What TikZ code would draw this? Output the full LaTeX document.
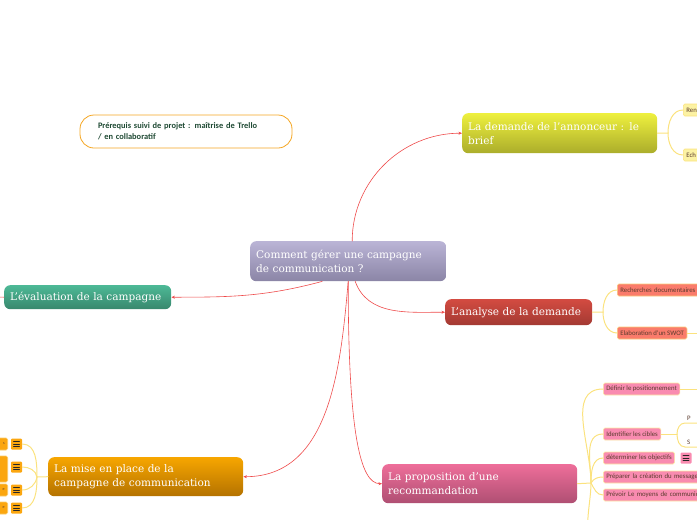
\documentclass[tikz,border=0pt]{standalone}
\usepackage{fontspec}
\setmainfont{DejaVu Serif}
\newfontfamily\leaffont{Carlito}
\usetikzlibrary{arrows.meta,positioning}
\definecolor{linkred}{HTML}{EE4B4B}
\definecolor{branchyel}{HTML}{FBE27E}
\definecolor{leaftext}{HTML}{5B3B2E}
\definecolor{preink}{HTML}{1F4A34}
\definecolor{preline}{HTML}{F5A623}
\definecolor{rootA}{HTML}{BAB4D6}
\definecolor{rootB}{HTML}{8B85A6}
\definecolor{briefA}{HTML}{EEF03E}
\definecolor{briefB}{HTML}{ABAD2B}
\definecolor{anaA}{HTML}{D34B41}
\definecolor{anaB}{HTML}{A33A33}
\definecolor{propA}{HTML}{EE6E9A}
\definecolor{propB}{HTML}{AF4F73}
\definecolor{miseA}{HTML}{F7A600}
\definecolor{miseB}{HTML}{B47200}
\definecolor{evalA}{HTML}{4DB996}
\definecolor{evalB}{HTML}{38876D}
\definecolor{briefleaf}{HTML}{FCF2A3}
\definecolor{analeaf}{HTML}{FA7B6B}
\definecolor{propleaf}{HTML}{F98BB0}
\definecolor{miseleaf}{HTML}{FBA60F}
\tikzset{
  every picture/.style={line cap=round, line join=round,
    >={Stealth[length=3.5pt,width=3pt]}},
  % Hauptthemen
  topic/.style={anchor=north west, rounded corners=6pt, inner xsep=6pt, inner ysep=0pt,
    text=white, align=left, font=\fontsize{10.5}{14}\selectfont},
  link/.style={linkred, line width=0.6pt, ->},
  branch/.style={branchyel, line width=1pt},
  % Unterpunkte
  leaf/.style={anchor=west, rounded corners=1.5pt, line width=0.6pt, inner xsep=3pt,
    inner ysep=0pt, minimum height=12pt, text=leaftext,
    font=\leaffont\fontsize{6.8}{8}\selectfont},
  cut/.style={text width=#1, align=left},
  under/.style={anchor=south west, inner xsep=2pt, inner ysep=2pt, text=leaftext,
    text width=20pt, align=left, font=\leaffont\fontsize{6.8}{8}\selectfont},
  icon/.style={minimum width=11pt, minimum height=11pt, inner sep=0pt, rounded corners=1pt,
    path picture={\foreach \dy in {-2.5,0,2.5}
      \draw[black!85, line width=0.7pt] ([xshift=-3pt,yshift=\dy pt]path picture bounding box.center) -- ++(6pt,0);}},
}
\begin{document}
\begin{tikzpicture}[x=1pt, y=1pt]
  \useasboundingbox (0,0) rectangle (697,-520);
  \clip (0,0) rectangle (697,-520);
  % Zentrum und Hauptäste
  \node[topic, top color=rootA, bottom color=rootB, minimum width=196pt, minimum height=40pt,
    text width=184pt] (root) at (250,-241) {Comment gérer une campagne\\de communication ?};
  \node[topic, top color=briefA, bottom color=briefB, minimum width=195pt, minimum height=40pt,
    text width=183pt] (brief) at (462,-113) {La demande de l'annonceur : le\\brief};
  \node[topic, top color=anaA, bottom color=anaB, minimum width=147pt, minimum height=26pt,
    text width=135pt] (ana) at (445,-299) {L'analyse de la demande};
  \node[topic, top color=propA, bottom color=propB, minimum width=195pt, minimum height=39pt,
    text width=183pt] (prop) at (382,-464) {La proposition d'une\\recommandation};
  \node[topic, top color=miseA, bottom color=miseB, minimum width=195pt, minimum height=39pt,
    text width=183pt] (mise) at (48,-457) {La mise en place de la\\campagne de communication};
  \node[topic, top color=evalA, bottom color=evalB, minimum width=167pt, minimum height=24pt,
    text width=155pt] (eval) at (4,-285) {L'évaluation de la campagne};
  \node[draw=preline, line width=0.8pt, fill=white, rounded corners=14pt, minimum width=212pt,
    minimum height=33pt, inner xsep=18pt, text width=176pt, align=left, text=preink,
    font=\leaffont\bfseries\fontsize{8.4}{11}\selectfont] (pre) at (186,-131.5)
    {Prérequis suivi de projet : maîtrise de Trello\\/ en collaboratif};
  \draw[link] ([xshift=4pt]root.north) to[out=90, in=180] (brief.west);
  \draw[link] ([xshift=7pt]root.south) to[out=-70, in=180] (ana.west);
  \draw[link] (root.south) .. controls +(0,-150) and +(-22,0) .. (prop.west);
  \draw[link] (root.south) to[out=-95, in=0] (mise.east);
  \draw[link] ([xshift=-26pt]root.south) to[out=195, in=0] (eval.east);
  \coordinate (evalout) at (-8,-297);
  \draw[linkred, line width=0.6pt] (eval.west) -- (evalout);
  % Brief
  \node[leaf, draw=branchyel, fill=briefleaf, cut=30pt] (ren) at (683,-110) {Ren};
  \node[leaf, draw=branchyel, fill=briefleaf, cut=30pt] (ech) at (683,-155) {Ech};
  \coordinate (bj) at (668,-133);
  \draw[branch] (brief.east) -- (bj);
  \draw[branch] (bj) to[out=90, in=180] (ren.west);
  \draw[branch] (bj) to[out=-90, in=180] (ech.west);
  % Analyse
  \node[leaf, draw=preline!60, fill=analeaf, cut=110pt] (doc) at (617,-290) {Recherches documentaires o};
  \node[leaf, draw=preline!60, fill=analeaf] (swot) at (617,-333) {Elaboration d'un SWOT};
  \coordinate (aj) at (603,-312);
  \coordinate (swotout) at (705,-333);
  \draw[branch] (ana.east) -- (aj);
  \draw[branch] (aj) to[out=90, in=180] (doc.west);
  \draw[branch] (aj) to[out=-90, in=180] (swot.west);
  \draw[branch] (swot.east) -- (swotout);
  % Proposition
  \node[leaf, draw=branchyel!70, fill=propleaf] (def) at (603,-389) {Définir le positionnement};
  \node[leaf, draw=branchyel!70, fill=propleaf] (cib) at (603,-434) {Identifier les cibles};
  \node[leaf, draw=branchyel!70, fill=propleaf] (obj) at (603,-458) {déterminer les objectifs};
  \node[icon, fill=propleaf] (objicon) at (686,-458) {};
  \node[leaf, draw=branchyel!70, fill=propleaf, cut=110pt] (mes) at (603,-477) {Préparer la création du message};
  \node[leaf, draw=branchyel!70, fill=propleaf, cut=110pt] (moy) at (603,-495) {Prévoir Le moyens de communic};
  \node[under] (p) at (685,-423) {P};
  \node[under] (s) at (685,-447) {S};
  \coordinate (pj) at (591,-483);
  \coordinate (cj) at (677,-434);
  \coordinate (defout) at (705,-389);
  \coordinate (propout) at (603,-545);
  \draw[branch] (prop.east) -- (pj);
  \draw[branch] (pj) to[out=90, in=180] (def.west);
  \draw[branch] (pj) to[out=90, in=180] (cib.west);
  \draw[branch] (pj) to[out=90, in=180] (obj.west);
  \draw[branch] (pj) to[out=60, in=180] (mes.west);
  \draw[branch] (pj) to[out=-60, in=180] (moy.west);
  \draw[branch] (pj) to[out=-90, in=180] (propout);
  \draw[branch] (def.east) -- (defout);
  \draw[branch] (cib.east) -- (cj);
  \draw[branch] (cj) to[out=90, in=180] (p.south west) -- (p.south east);
  \draw[branch] (cj) to[out=-90, in=180] (s.south west) -- (s.south east);
  % Mise en place
  \foreach \n/\y/\h/\t in {1/444/12/s, 2/469/26/{}, 3/490/12/e, 4/508/12/e} {
    \node[leaf, anchor=east, draw=miseA!60, fill=miseleaf, minimum height=\h pt,
      text width=14pt, align=right, font=\leaffont\fontsize{4}{5}\selectfont] (m\n) at (8,-\y) {\t};
  }
  \node[icon, fill=miseleaf] (i1) at (16.5,-444) {};
  \node[icon, fill=miseleaf] (i2) at (16.5,-467) {};
  \node[icon, fill=miseleaf] (i3) at (16.5,-490) {};
  \node[icon, fill=miseleaf] (i4) at (16.5,-508) {};
  \coordinate (mj) at (37,-477);
  \draw[branch] (mise.west) -- (mj);
  \draw[branch] (mj) to[out=90, in=0] (i1.east);
  \draw[branch] (mj) to[out=100, in=0] (i2.east);
  \draw[branch] (mj) to[out=-100, in=0] (i3.east);
  \draw[branch] (mj) to[out=-90, in=0] (i4.east);
\end{tikzpicture}
\end{document}
